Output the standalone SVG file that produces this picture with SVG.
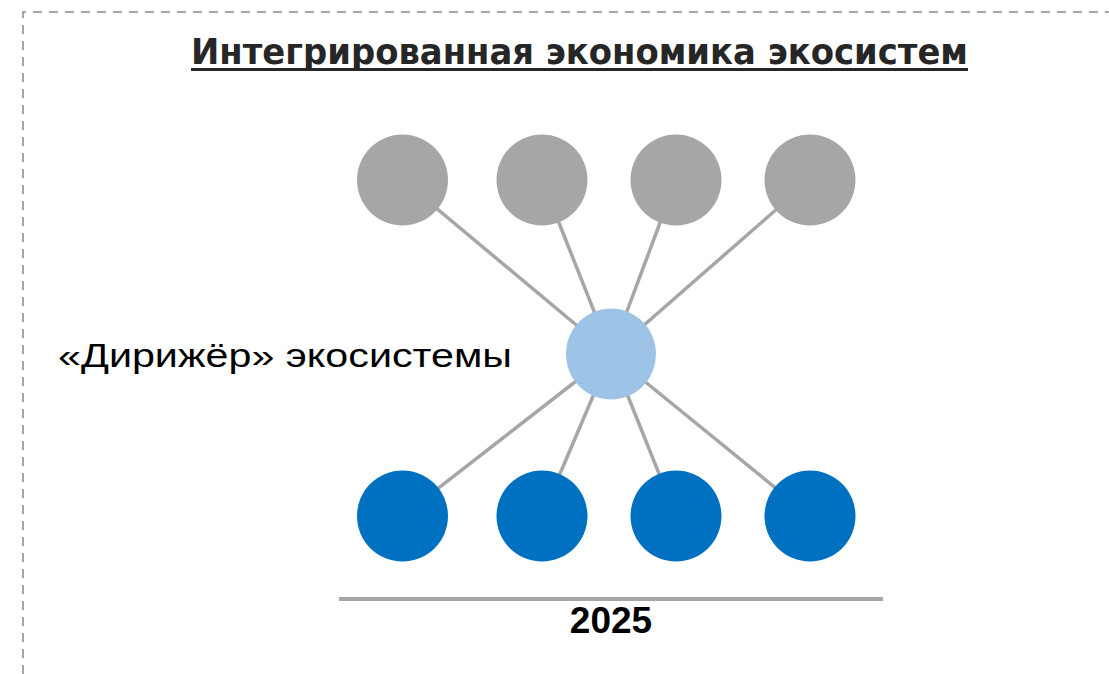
<svg xmlns="http://www.w3.org/2000/svg" width="1109" height="674" viewBox="0 0 1109 674">
<style>
.gray{fill:#A6A6A6}
.blue{fill:#0070C0}
.hub{fill:#9DC3E6}
.conn line{stroke:#A6A6A6;stroke-width:3.5}
.border{fill:none;stroke:#A6A6A6;stroke-width:2;stroke-dasharray:9 7}
</style>
<rect width="1109" height="674" fill="#fff"/>
<path class="border" d="M23 674 V12 H1109"/>
<g id="title">
<text x="579.5" y="64" text-anchor="middle" font-family="'DejaVu Sans', sans-serif" font-weight="bold" font-size="35" fill="#262626" textLength="777" lengthAdjust="spacingAndGlyphs">Интегрированная экономика экосистем</text>
<line x1="191" y1="69.5" x2="968" y2="69.5" stroke="#262626" stroke-width="3"/>
</g>
<g id="connectors" class="conn">
<line x1="611" y1="354" x2="402.5" y2="180"/>
<line x1="611" y1="354" x2="542" y2="180"/>
<line x1="611" y1="354" x2="676" y2="180"/>
<line x1="611" y1="354" x2="810" y2="180"/>
<line x1="611" y1="354" x2="402.5" y2="516"/>
<line x1="611" y1="354" x2="542" y2="516"/>
<line x1="611" y1="354" x2="676" y2="516"/>
<line x1="611" y1="354" x2="810" y2="516"/>
</g>
<g id="top1"><circle class="gray" cx="402.5" cy="180" r="45.5"/></g>
<g id="top2"><circle class="gray" cx="542" cy="180" r="45.5"/></g>
<g id="top3"><circle class="gray" cx="676" cy="180" r="45.5"/></g>
<g id="top4"><circle class="gray" cx="810" cy="180" r="45.5"/></g>
<g id="hub"><ellipse class="hub" cx="611" cy="354" rx="45" ry="45.5"/></g>
<g id="bottom1"><circle class="blue" cx="402.5" cy="516" r="45.5"/></g>
<g id="bottom2"><circle class="blue" cx="542" cy="516" r="45.5"/></g>
<g id="bottom3"><circle class="blue" cx="676" cy="516" r="45.5"/></g>
<g id="bottom4"><circle class="blue" cx="810" cy="516" r="45.5"/></g>
<g id="hub-label">
<text x="58" y="367" font-family="'Liberation Sans', sans-serif" font-size="34" fill="#000" textLength="454" lengthAdjust="spacingAndGlyphs">«Дирижёр» экосистемы</text>
</g>
<g id="timeline">
<line x1="339" y1="599" x2="883" y2="599" stroke="#A6A6A6" stroke-width="4"/>
<text x="611" y="633" text-anchor="middle" font-family="'Liberation Sans', sans-serif" font-weight="bold" font-size="37" fill="#000">2025</text>
</g>
</svg>
